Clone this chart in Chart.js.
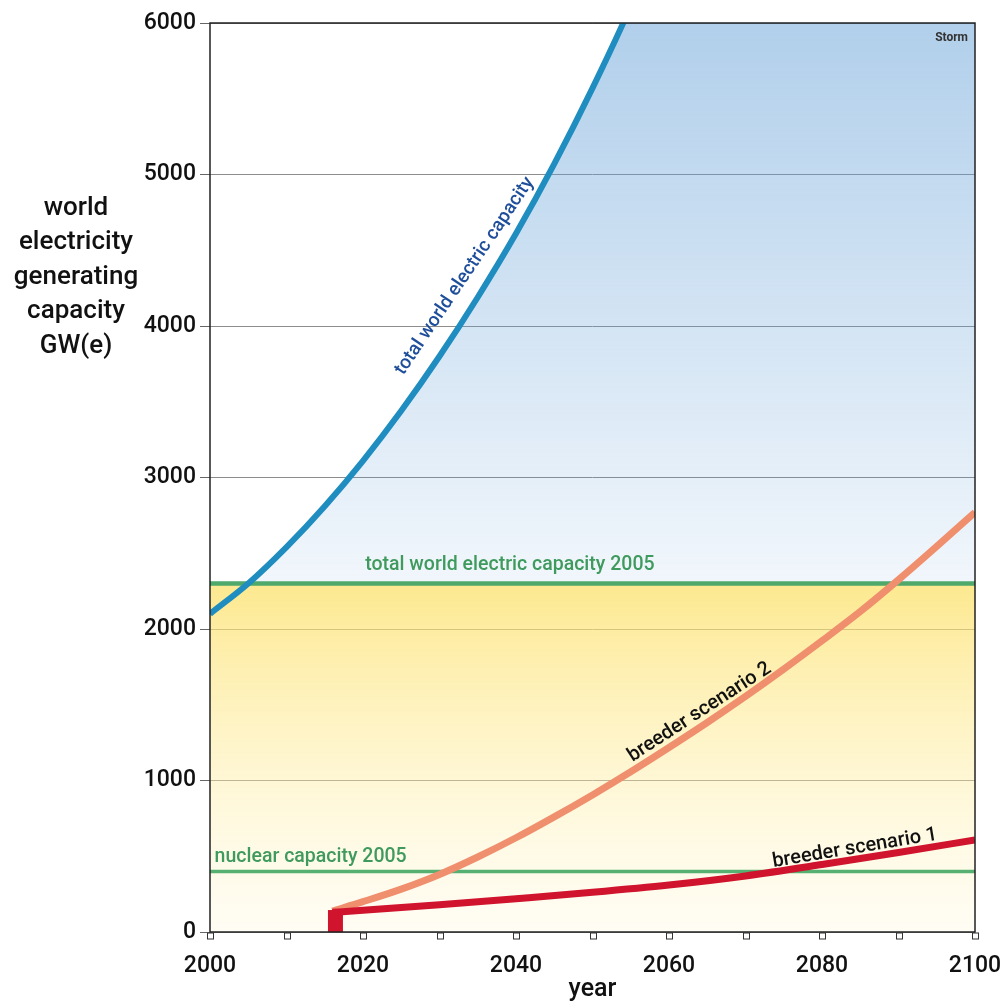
<!DOCTYPE html>
<html>
<head>
<meta charset="utf-8">
<script src="https://cdn.jsdelivr.net/npm/chart.js@4.4.1/dist/chart.umd.min.js"></script>
<style>
  html, body { margin: 0; padding: 0; background: #fff; }
  #wrap { width: 1000px; height: 1008px; position: relative; }
</style>
</head>
<body>
<div id="wrap"><canvas id="c" width="1000" height="1008"></canvas></div>
<script>
// world capacity curve (runs off the top of the chart after ~2054)
const worldYears  = [2000, 2005, 2010, 2015, 2020, 2025, 2030, 2035, 2040, 2045, 2050, 2055, 2060, 2070, 2080, 2090, 2100];
const worldValues = [2100, 2300, 2540, 2810, 3110, 3440, 3800, 4190, 4610, 5070, 5570, 6110, 6700, 8000, 9500, 11200, 13200];

const breeder2Years  = [2016, 2020, 2025, 2030, 2035, 2040, 2045, 2050, 2055, 2060, 2065, 2070, 2075, 2080, 2085, 2090, 2095, 2100];
const breeder2Values = [138, 200, 283, 380, 495, 622, 760, 905, 1058, 1218, 1383, 1555, 1735, 1922, 2115, 2325, 2545, 2770];

const breeder1Years  = [2016, 2020, 2030, 2040, 2050, 2060, 2070, 2080, 2090, 2100];
const breeder1Values = [130, 143, 180, 220, 262, 310, 370, 445, 525, 608];

const startYear = 2016.4;
const startValue = 145;
const worldCap2005 = 2300;
const nuclearCap2005 = 400;

const yTitle = ['world', 'electricity', 'generating', 'capacity', 'GW(e)'];

const toXY = (xs, ys) => xs.map((x, i) => ({x: x, y: ys[i]}));

// label anchors, in data units
const notes = [
  {text: 'total world electric capacity', x: 2033.3, y: 4330, angle: -56, color: '#1f4e9a', size: 19},
  {text: 'breeder scenario 2', x: 2064.0, y: 1450, angle: -33, color: '#111', size: 20},
  {text: 'breeder scenario 1', x: 2084.3, y: 552, angle: -9.5, color: '#111', size: 20},
  {text: 'total world electric capacity 2005', x: 2039.2, y: 2420, angle: 0, color: '#3f9a5e', size: 19.5},
  {text: 'nuclear capacity 2005', x: 2000.6, y: 495, angle: 0, color: '#3f9a5e', size: 19.5, align: 'left'}
];

function vGrad(ctx, chart, lo, hi, cLo, cHi) {
  const a = chart.chartArea;
  if (!a) return cHi;
  const y = chart.scales.y;
  const g = ctx.createLinearGradient(0, y.getPixelForValue(lo), 0, y.getPixelForValue(hi));
  g.addColorStop(0, cLo);
  g.addColorStop(1, cHi);
  return g;
}

const decor = {
  id: 'decor',
  afterDatasetsDraw(chart) {
    const ctx = chart.ctx, a = chart.chartArea;
    const xs = chart.scales.x, ys = chart.scales.y;
    ctx.save();
    // frame
    ctx.strokeStyle = '#222';
    ctx.lineWidth = 1.5;
    ctx.strokeRect(a.left, a.top, a.right - a.left, a.bottom - a.top);
    // little hollow tick boxes
    ctx.lineWidth = 1;
    ctx.strokeStyle = '#333';
    ctx.fillStyle = '#fff';
    for (let yr = 2000; yr <= 2100; yr += 10) {
      const px = Math.round(xs.getPixelForValue(yr)) + 0.5;
      ctx.fillRect(px - 3, a.bottom + 1, 6, 6);
      ctx.strokeRect(px - 3, a.bottom + 1, 6, 6);
    }
    // curve labels
    notes.forEach(n => {
      ctx.save();
      ctx.translate(xs.getPixelForValue(n.x), ys.getPixelForValue(n.y));
      ctx.rotate(n.angle * Math.PI / 180);
      ctx.font = '500 ' + n.size + 'px Roboto, "Open Sans", sans-serif';
      ctx.fillStyle = n.color;
      ctx.textAlign = n.align || 'center';
      ctx.textBaseline = 'middle';
      ctx.fillText(n.text, 0, 0);
      ctx.restore();
    });
    ctx.font = 'bold 12px Roboto, sans-serif';
    ctx.fillStyle = '#333';
    ctx.textAlign = 'right';
    ctx.textBaseline = 'middle';
    ctx.fillText('Storm', a.right - 7, a.top + 15);
    // y title, stacked lines
    ctx.font = '500 26px Roboto, "Open Sans", sans-serif';
    ctx.fillStyle = '#111';
    ctx.textAlign = 'center';
    yTitle.forEach((t, i) => ctx.fillText(t, 76, 208 + i * 34.5));
    ctx.restore();
  }
};

new Chart(document.getElementById('c'), {
  type: 'line',
  data: {
    datasets: [
      {
        label: 'breeder scenario 1',
        data: toXY(breeder1Years, breeder1Values),
        borderColor: '#d0142e', borderWidth: 7, pointRadius: 0,
        cubicInterpolationMode: 'monotone', fill: false
      },
      {
        label: 'start',
        data: [{x: startYear, y: 0}, {x: startYear, y: startValue}],
        borderColor: '#d0142e', borderWidth: 15, borderCapStyle: 'butt',
        pointRadius: 0, fill: false
      },
      {
        label: 'breeder scenario 2',
        data: toXY(breeder2Years, breeder2Values),
        borderColor: '#f08f6e', borderWidth: 7, pointRadius: 0,
        cubicInterpolationMode: 'monotone', fill: false
      },
      {
        label: 'total world electric capacity',
        data: toXY(worldYears, worldValues),
        borderColor: '#1f8dbf', borderWidth: 6, pointRadius: 0,
        cubicInterpolationMode: 'monotone',
        fill: {
          target: {value: worldCap2005},
          above: (c) => vGrad(c.chart.ctx, c.chart, worldCap2005, 6000, 'rgba(100,160,215,0.09)', 'rgba(100,160,215,0.5)'),
          below: 'rgba(0,0,0,0)'
        }
      },
      {
        label: 'nuclear capacity 2005',
        data: [{x: 2000, y: nuclearCap2005}, {x: 2100, y: nuclearCap2005}],
        borderColor: '#56b071', borderWidth: 3.5, pointRadius: 0, fill: false
      },
      {
        label: 'total world electric capacity 2005',
        data: [{x: 2000, y: worldCap2005}, {x: 2100, y: worldCap2005}],
        borderColor: '#4ea96a', borderWidth: 4.5, pointRadius: 0,
        fill: {target: 'origin'},
        backgroundColor: (c) => vGrad(c.chart.ctx, c.chart, 0, worldCap2005, 'rgba(255,245,200,0.2)', 'rgba(252,224,100,0.72)')
      }
    ]
  },
  options: {
    responsive: false,
    animation: false,
    layout: {padding: {left: 0, right: 25, top: 23, bottom: 0}},
    plugins: {
      legend: {display: false},
      tooltip: {enabled: false},
      filler: {drawTime: 'beforeDatasetsDraw'}
    },
    scales: {
      x: {
        type: 'linear', min: 2000, max: 2100,
        afterFit: s => { s.height = 76; s.paddingLeft = 0; s.paddingRight = 0; },
        grid: {display: false},
        border: {display: false},
        ticks: {
          stepSize: 10, padding: 12, color: '#111', maxRotation: 0, autoSkip: false,
          font: {family: 'Roboto, "Open Sans", sans-serif', size: 23, weight: '500'},
          callback: v => (v % 20 === 0 ? String(v) : '')
        },
        title: {
          display: true, text: 'year', color: '#111',
          font: {family: 'Roboto, "Open Sans", sans-serif', size: 25, weight: '500'},
          padding: {top: 0, bottom: 3}
        }
      },
      y: {
        min: 0, max: 6000,
        afterFit: s => { s.width = 210; },
        border: {display: false},
        grid: {color: '#8c8c8c', lineWidth: 1, tickLength: 10, tickColor: '#666'},
        ticks: {
          stepSize: 1000, padding: 4, color: '#111',
          font: {family: 'Roboto, "Open Sans", sans-serif', size: 23, weight: '500'},
          callback: v => String(v)
        }
      }
    }
  },
  plugins: [decor]
});
</script>
</body>
</html>
